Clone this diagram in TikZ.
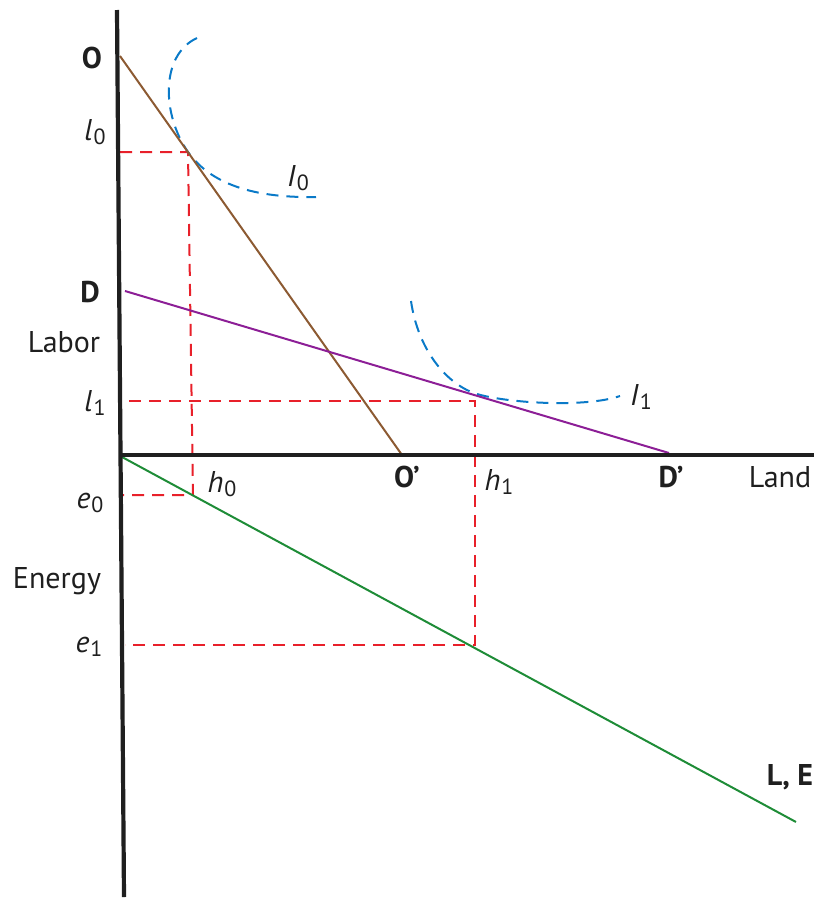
\documentclass[tikz,border=0pt]{standalone}
\usepackage{fontspec}
\setmainfont{PT Sans}
\newcommand{\labsub}[2]{\textit{#1}\kern1pt\raisebox{-0.3ex}{\fontsize{22}{22}\selectfont #2}}
\begin{document}
\begin{tikzpicture}[x=1pt,y=-1pt,
  axis/.style={line width=4.2pt,draw=black!88},
  guide/.style={line width=2pt,draw={rgb,255:red,232;green,32;blue,42},dash pattern=on 12pt off 8pt},
  indiff/.style={line width=2pt,draw={rgb,255:red,10;green,122;blue,200},dash pattern=on 12pt off 8pt},
  lbl/.style={font=\fontsize{30}{34}\selectfont,inner sep=0pt,text=black!88},
  blbl/.style={lbl,font=\fontsize{30}{34}\selectfont\bfseries}]
\useasboundingbox (0,0) rectangle (814,900);
% coordinates
\coordinate (vtop) at (117,10);
\coordinate (vbot) at (124,897);
\coordinate (hl) at (119,455);
\coordinate (hr) at (814,455);
\coordinate (Oc) at (120,56);
\coordinate (Opc) at (402,455);
\coordinate (Dc) at (125,291);
\coordinate (Dpc) at (669,453);
\coordinate (Ec) at (122,457);
\coordinate (LEc) at (796,822);
\coordinate (t0) at (188,152);
\coordinate (l0a) at (120,152);
\coordinate (h0b) at (193,495);
\coordinate (e0a) at (122,495);
\coordinate (t1) at (475,401);
\coordinate (l1a) at (129,401);
\coordinate (h1b) at (475,645);
\coordinate (e1a) at (125,645);
% guides
\draw[guide] (l0a) -- (t0) -- (h0b) -- (e0a);
\draw[guide] (l1a) -- (t1) -- (h1b) -- (e1a);
% indifference curves
\draw[indiff] (197,38) .. controls (160,55) and (162,115) .. (t0)
   .. controls (213,187) and (260,198) .. (316,197);
\draw[indiff] (411,301) .. controls (418,350) and (447,385) .. (477,394)
   .. controls (507,403) and (585,408) .. (620,396);
% lines
\draw[line width=2pt,draw={rgb,255:red,140;green,90;blue,50}] (Oc) -- (Opc);
\draw[line width=2pt,draw={rgb,255:red,140;green,30;blue,150}] (Dc) -- (Dpc);
\draw[line width=2pt,draw={rgb,255:red,30;green,140;blue,55}] (Ec) -- (LEc);
% axes
\draw[axis] (vtop) -- (vbot);
\draw[axis] (hl) -- (hr);
% labels
\node[blbl] (O) at (92,58) {O};
\node[lbl] (l0) at (95,132) {\labsub{l}{0}};
\node[lbl] (I0) at (298,178) {\labsub{I}{0}};
\node[blbl] (D) at (90,292) {D};
\node[lbl] (labor) at (64,342) {Labor};
\node[lbl] (l1) at (95,403) {\labsub{l}{1}};
\node[lbl] (I1) at (641,397) {\labsub{I}{1}};
\node[lbl] (h0) at (222,484) {\labsub{h}{0}};
\node[blbl] (Op) at (407,477) {O’};
\node[lbl] (h1) at (499,482) {\labsub{h}{1}};
\node[blbl] (Dp) at (671,477) {D’};
\node[lbl] (land) at (780,477) {Land};
\node[lbl] (e0) at (90,503) {\labsub{e}{0}};
\node[lbl] (energy) at (57,581) {Energy};
\node[lbl] (e1) at (89,647) {\labsub{e}{1}};
\node[blbl] (LE) at (790,777) {L, E};
\end{tikzpicture}
\end{document}
